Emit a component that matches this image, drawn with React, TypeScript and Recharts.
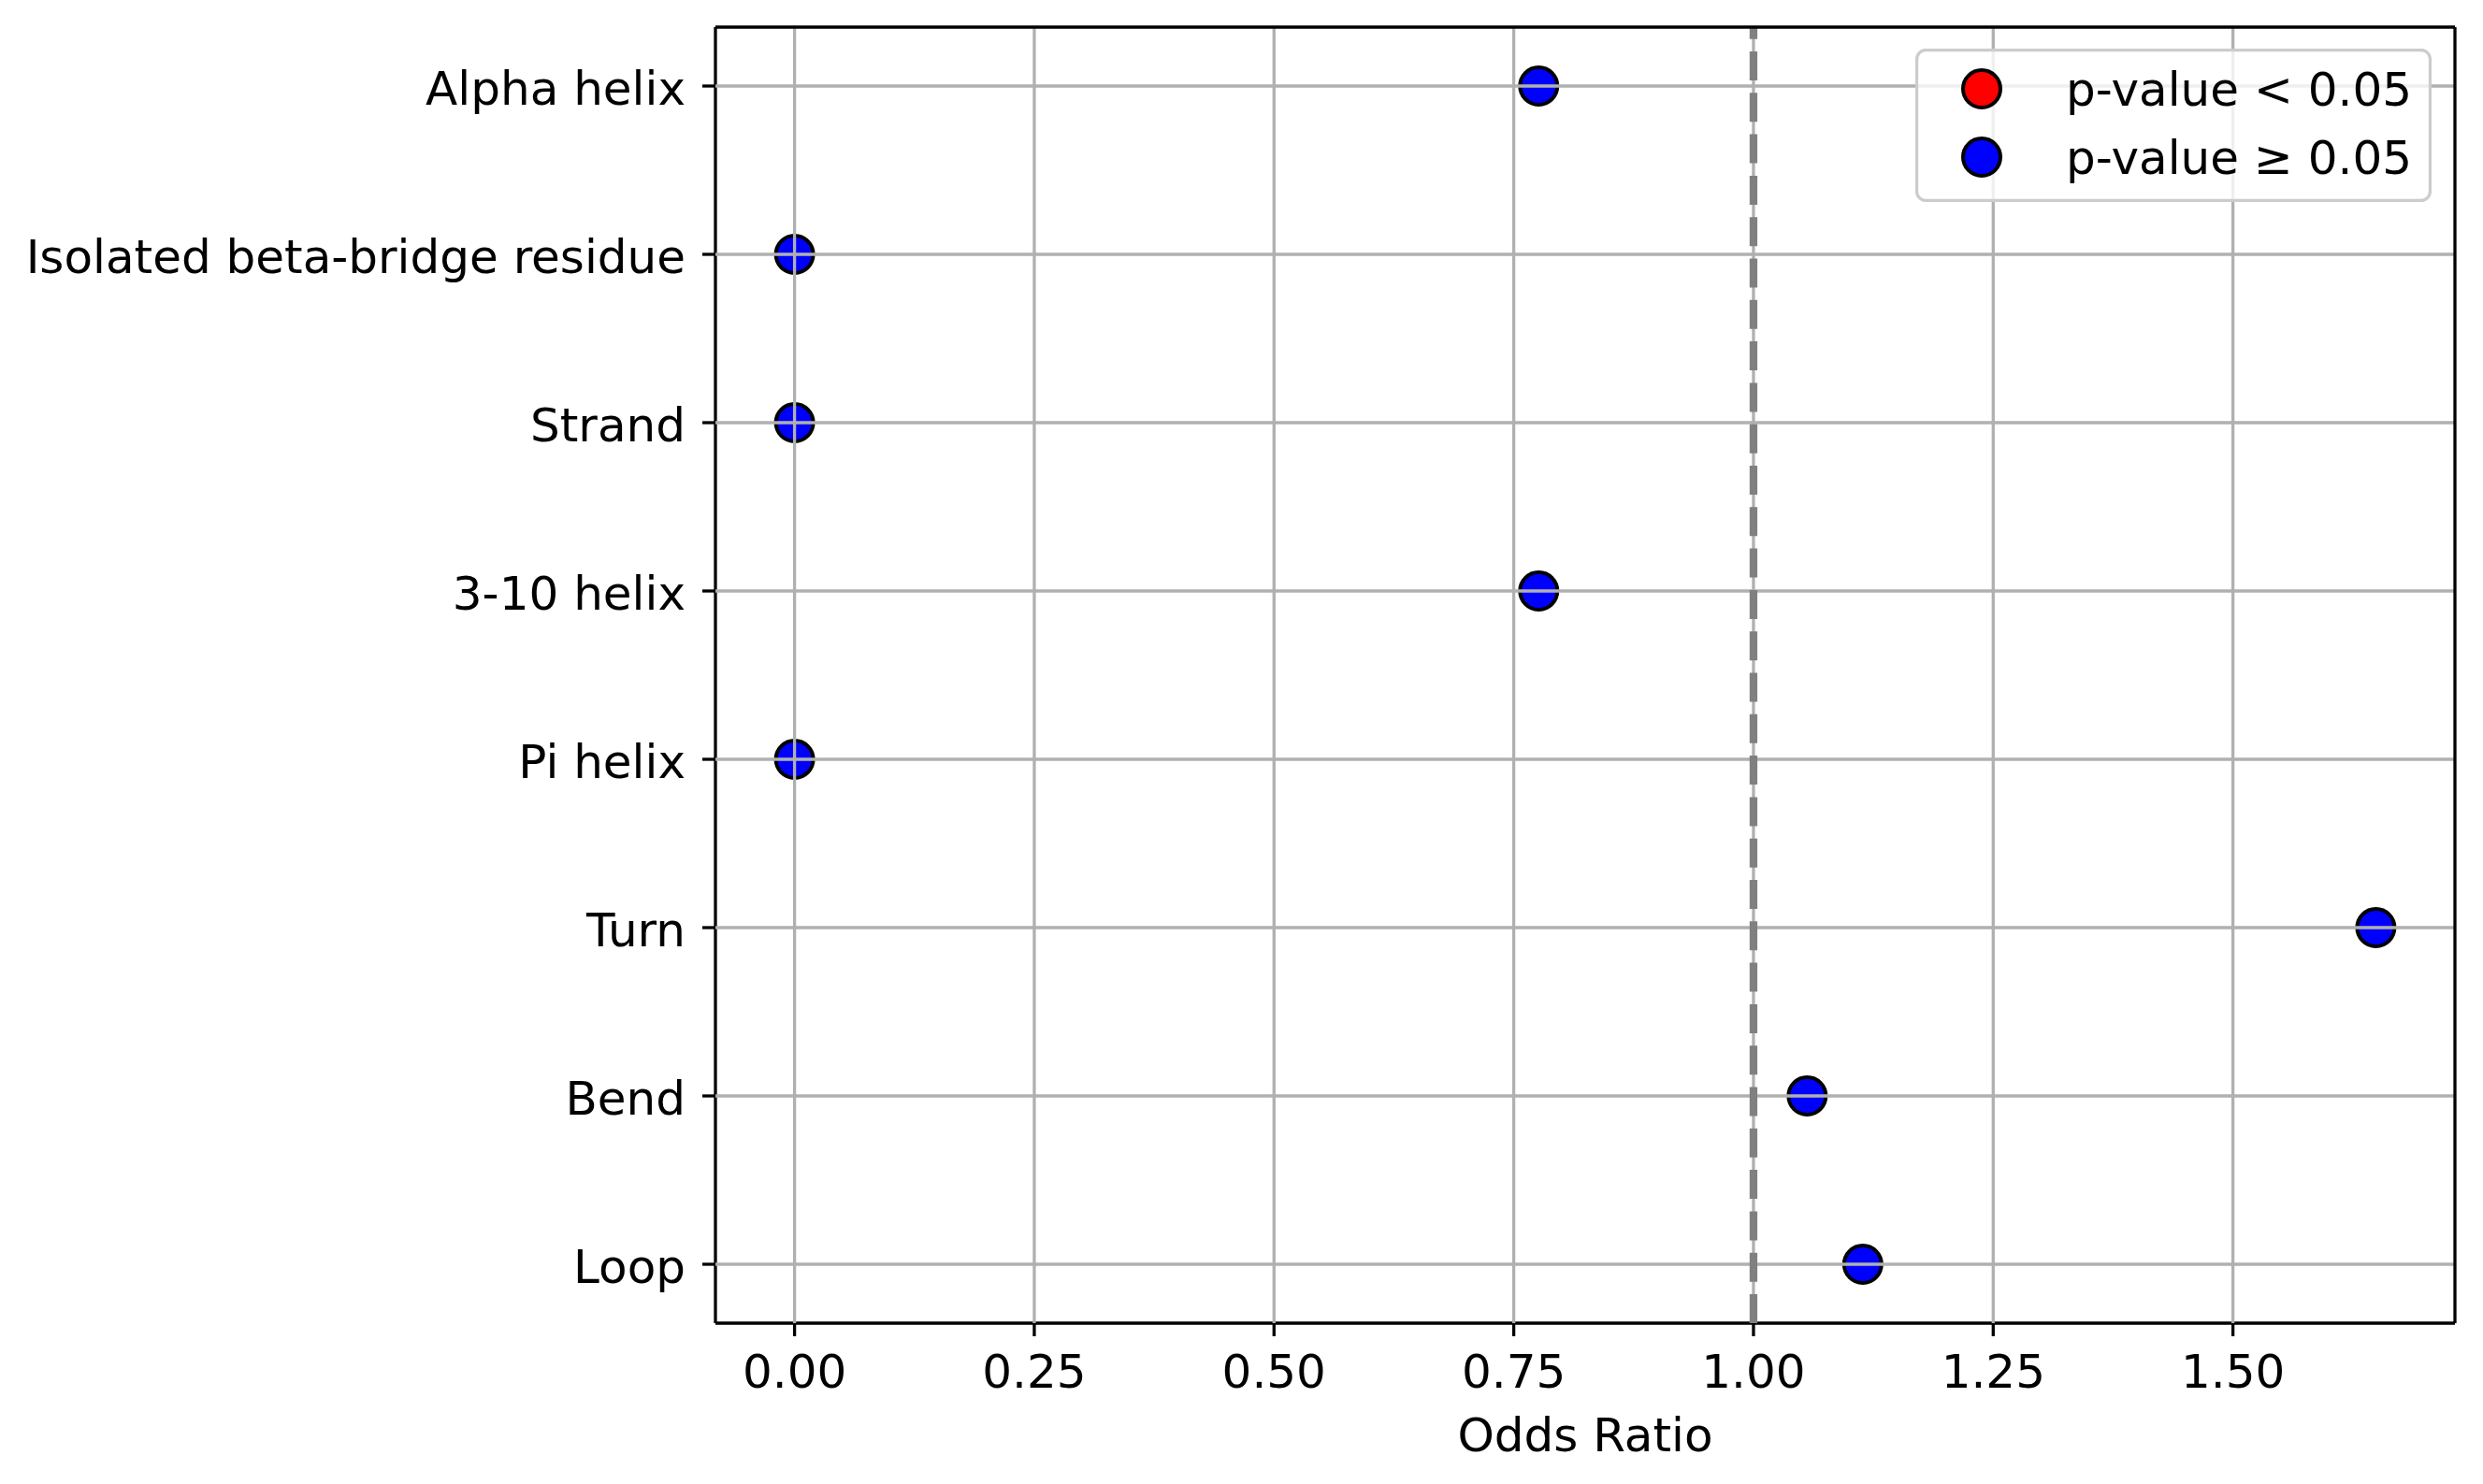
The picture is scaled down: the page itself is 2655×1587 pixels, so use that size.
import {
  CartesianGrid,
  Legend,
  ReferenceLine,
  Scatter,
  ScatterChart,
  XAxis,
  YAxis,
} from "recharts";

const categories = [
  "Alpha helix",
  "Isolated beta-bridge residue",
  "Strand",
  "3-10 helix",
  "Pi helix",
  "Turn",
  "Bend",
  "Loop",
];
const oddsRatios = [0.776, 0, 0, 0.776, 0, 1.649, 1.056, 1.114];
const significant = [false, false, false, false, false, false, false, false];
const xTicks = [0, 0.25, 0.5, 0.75, 1.0, 1.25, 1.5];
const yTicks = [0, 1, 2, 3, 4, 5, 6, 7];
const legendLabels = ["p-value < 0.05", "p-value \u2265 0.05"];
const legendColors = ["#ff0000", "#0000ff"];

const points = categories.map((name, i) => ({
  name,
  x: oddsRatios[i],
  y: i,
  sig: significant[i],
}));
const sigPoints = points.filter((p) => p.sig);
const nonSigPoints = points.filter((p) => !p.sig);

const FONT = "DejaVu Sans";
const LW = 3.3;
const X_DOMAIN = [-0.0825, 1.7315];
const Y_DOMAIN = [-0.35, 7.35];

const dot = (color: string) => (props: any) => (
  <circle
    cx={props.cx}
    cy={props.cy}
    r={20}
    fill={color}
    stroke="#000"
    strokeWidth={4}
  />
);

const LegendBox = () => (
  <svg width={552} height={164} style={{ display: "block" }}>
    <rect
      x={1.5}
      y={1.5}
      width={549}
      height={161}
      rx={10}
      fill="rgba(255,255,255,0.8)"
      stroke="#cccccc"
      strokeWidth={3.3}
    />
    {legendLabels.map((label, i) => (
      <g key={label}>
        <circle
          cx={71}
          cy={43 + i * 73}
          r={20}
          fill={legendColors[i]}
          stroke="#000"
          strokeWidth={4}
        />
        <text
          x={161}
          y={43 + i * 73}
          dy={18}
          fontFamily={FONT}
          fontSize={50}
          fill="#000"
        >
          {label}
        </text>
      </g>
    ))}
  </svg>
);

export default function App() {
  return (
    <div style={{ position: "absolute", left: 0, top: 0, background: "#fff" }}>
      <ScatterChart
        width={2655}
        height={1587}
        margin={{ top: 29, right: 30, bottom: 0, left: 0 }}
      >
        <XAxis
          type="number"
          dataKey="x"
          domain={X_DOMAIN}
          ticks={xTicks}
          allowDataOverflow
          height={172}
          stroke="#000"
          strokeWidth={LW}
          tickFormatter={(v: number) => v.toFixed(2)}
          tick={{ fontFamily: FONT, fontSize: 50, fill: "#000" }}
          tickSize={14}
          tickMargin={19}
          axisLine={{ stroke: "#000", strokeWidth: LW }}
          tickLine={{ stroke: "#000", strokeWidth: LW }}
          label={{
            value: "Odds Ratio",
            position: "insideBottom",
            offset: 35,
            style: { fontFamily: FONT, fontSize: 50, fill: "#000" },
          }}
        />
        <YAxis
          type="number"
          dataKey="y"
          domain={Y_DOMAIN}
          ticks={yTicks}
          interval={0}
          reversed
          allowDataOverflow
          width={765}
          stroke="#000"
          strokeWidth={LW}
          tickFormatter={(v: number) => categories[v]}
          tick={{ fontFamily: FONT, fontSize: 50, fill: "#000", dy: 2 }}
          tickSize={14}
          tickMargin={18}
          axisLine={{ stroke: "#000", strokeWidth: LW }}
          tickLine={{ stroke: "#000", strokeWidth: LW }}
        />
        <Scatter
          name={legendLabels[0]}
          data={sigPoints}
          fill={legendColors[0]}
          shape={dot(legendColors[0])}
          isAnimationActive={false}
        />
        <Scatter
          name={legendLabels[1]}
          data={nonSigPoints}
          fill={legendColors[1]}
          shape={dot(legendColors[1])}
          isAnimationActive={false}
        />
        <CartesianGrid
          stroke="#b0b0b0"
          strokeWidth={LW}
          syncWithTicks
          zIndex={650}
        />
        <ReferenceLine
          x={1}
          stroke="#808080"
          strokeWidth={8.3}
          strokeDasharray="31 13.3"
          zIndex={700}
        />
        {/* top and right spines */}
        <ReferenceLine
          y={Y_DOMAIN[0]}
          stroke="#000"
          strokeWidth={LW}
          ifOverflow="visible"
          zIndex={800}
        />
        <ReferenceLine
          x={X_DOMAIN[1]}
          stroke="#000"
          strokeWidth={LW}
          ifOverflow="visible"
          zIndex={800}
        />
        <Legend
          layout="vertical"
          align="center"
          verticalAlign="middle"
          wrapperStyle={{ left: 2048, top: 52, width: 552, height: 164 }}
          content={() => <LegendBox />}
        />
      </ScatterChart>
    </div>
  );
}
